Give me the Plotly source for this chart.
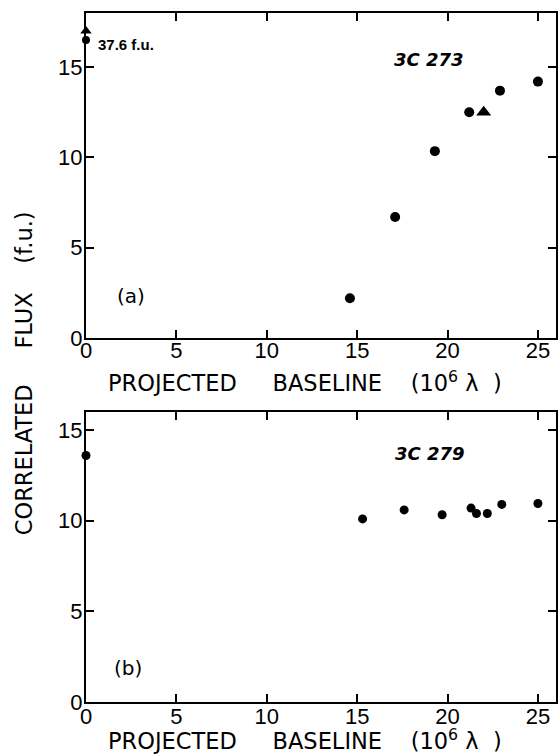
import plotly.graph_objects as go

# Panel (a) 3C 273
a_x = [14.6, 17.1, 19.3, 21.2, 22.9, 25.0]
a_y = [2.2, 6.7, 10.35, 12.5, 13.7, 14.2]
a_tri_x = [22.0]
a_tri_y = [12.5]
a_zero_dot = [0.0, 16.5]
a_zero_arrow = [0.0, 17.0]
a_zero_label = "37.6 f.u."

# Panel (b) 3C 279
b_x = [0.0, 15.3, 17.6, 19.7, 21.3, 21.6, 22.2, 23.0, 25.0]
b_y = [13.6, 10.1, 10.6, 10.33, 10.7, 10.4, 10.4, 10.9, 10.95]

x_ticks = [0, 5, 10, 15, 20, 25]
a_y_ticks = [0, 5, 10, 15]
b_y_ticks = [0, 5, 10, 15]

FONT = "Liberation Sans, Arial, sans-serif"
TFONT = "DejaVu Sans, sans-serif"
NB = "\u00a0"

fig = go.Figure()

fig.add_trace(go.Scatter(x=a_x, y=a_y, mode="markers", xaxis="x", yaxis="y",
                         marker=dict(symbol="circle", size=10, color="black"),
                         cliponaxis=False, showlegend=False))
fig.add_trace(go.Scatter(x=a_tri_x, y=a_tri_y, mode="markers", xaxis="x", yaxis="y",
                         marker=dict(symbol="triangle-up", size=13, color="black"),
                         cliponaxis=False, showlegend=False))
fig.add_trace(go.Scatter(x=[a_zero_dot[0]], y=[a_zero_dot[1]], mode="markers", xaxis="x", yaxis="y",
                         marker=dict(symbol="circle", size=8, color="black"),
                         cliponaxis=False, showlegend=False))
fig.add_trace(go.Scatter(x=[a_zero_arrow[0]], y=[a_zero_arrow[1]], mode="markers", xaxis="x", yaxis="y",
                         marker=dict(symbol="triangle-up", size=10, color="black"),
                         cliponaxis=False, showlegend=False))
fig.add_trace(go.Scatter(x=b_x, y=b_y, mode="markers", xaxis="x2", yaxis="y2",
                         marker=dict(symbol="circle", size=9, color="black"),
                         cliponaxis=False, showlegend=False))

axis_common = dict(showline=True, linecolor="black", linewidth=2, mirror="ticks",
                   ticks="inside", ticklen=8, tickwidth=1.5, tickcolor="black",
                   showgrid=False, zeroline=False,
                   tickfont=dict(family=FONT, size=22, color="black"))

fig.update_layout(
    width=559, height=754,
    margin=dict(l=86, r=1, t=13, b=52),
    paper_bgcolor="white", plot_bgcolor="white",
    xaxis=dict(domain=[0, 1], range=[0, 26], tickvals=x_ticks, anchor="y",
               ticklabelstandoff=-8, **axis_common),
    yaxis=dict(domain=[0.5283, 1.0], range=[0, 18], tickvals=a_y_ticks, anchor="x",
               ticklabelstandoff=-3, **axis_common),
    xaxis2=dict(domain=[0, 1], range=[0, 26], tickvals=x_ticks, anchor="y2",
                ticklabelstandoff=-6, **axis_common),
    yaxis2=dict(domain=[0, 0.4209], range=[0, 16], tickvals=b_y_ticks, anchor="x2",
                ticklabelstandoff=-3, **axis_common),
)

ann = []
title_x = "PROJECTED" + NB * 5 + "BASELINE" + NB * 4 + "(10<sup>6</sup>" + NB + "λ" + NB * 2 + ")"
ann.append(dict(text=title_x, xref="paper", yref="paper", x=(306 - 86) / 472, y=(702 - 382) / 689,
                xanchor="center", yanchor="middle", showarrow=False,
                font=dict(family=TFONT, size=22.5, color="black")))
ann.append(dict(text=title_x, xref="paper", yref="paper", x=(306 - 86) / 472, y=(702 - 739) / 689,
                xanchor="center", yanchor="middle", showarrow=False,
                font=dict(family=TFONT, size=22.5, color="black")))
title_y = "CORRELATED" + NB * 5 + "FLUX" + NB * 4 + "(f.u.)"
ann.append(dict(text=title_y, xref="paper", yref="paper",
                x=(24 - 86) / 472, y=(702 - 373) / 689, textangle=-90,
                xanchor="center", yanchor="middle", showarrow=False,
                font=dict(family=TFONT, size=22.5, color="black")))
ann.append(dict(text="<b><i>3C 273</i></b>", xref="x", yref="y", x=19.0, y=15.4, showarrow=False,
                font=dict(family=TFONT, size=18, color="black")))
ann.append(dict(text="<b><i>3C 279</i></b>", xref="x2", yref="y2", x=19.05, y=13.7, showarrow=False,
                font=dict(family=TFONT, size=18, color="black")))
ann.append(dict(text="(a)", xref="x", yref="y", x=2.5, y=2.3, showarrow=False,
                font=dict(family=TFONT, size=20, color="black")))
ann.append(dict(text="(b)", xref="x2", yref="y2", x=2.3, y=1.9, showarrow=False,
                font=dict(family=TFONT, size=20, color="black")))
ann.append(dict(text="<b>" + a_zero_label + "</b>", xref="x", yref="y", x=0.55, y=16.25,
                xanchor="left", yanchor="middle", showarrow=False,
                font=dict(family=FONT, size=15, color="black")))
fig.update_layout(annotations=ann)

fig.write_html("out.html", config={"displayModeBar": False},
               post_script="document.body.style.margin='0';document.body.style.overflow='hidden';")
